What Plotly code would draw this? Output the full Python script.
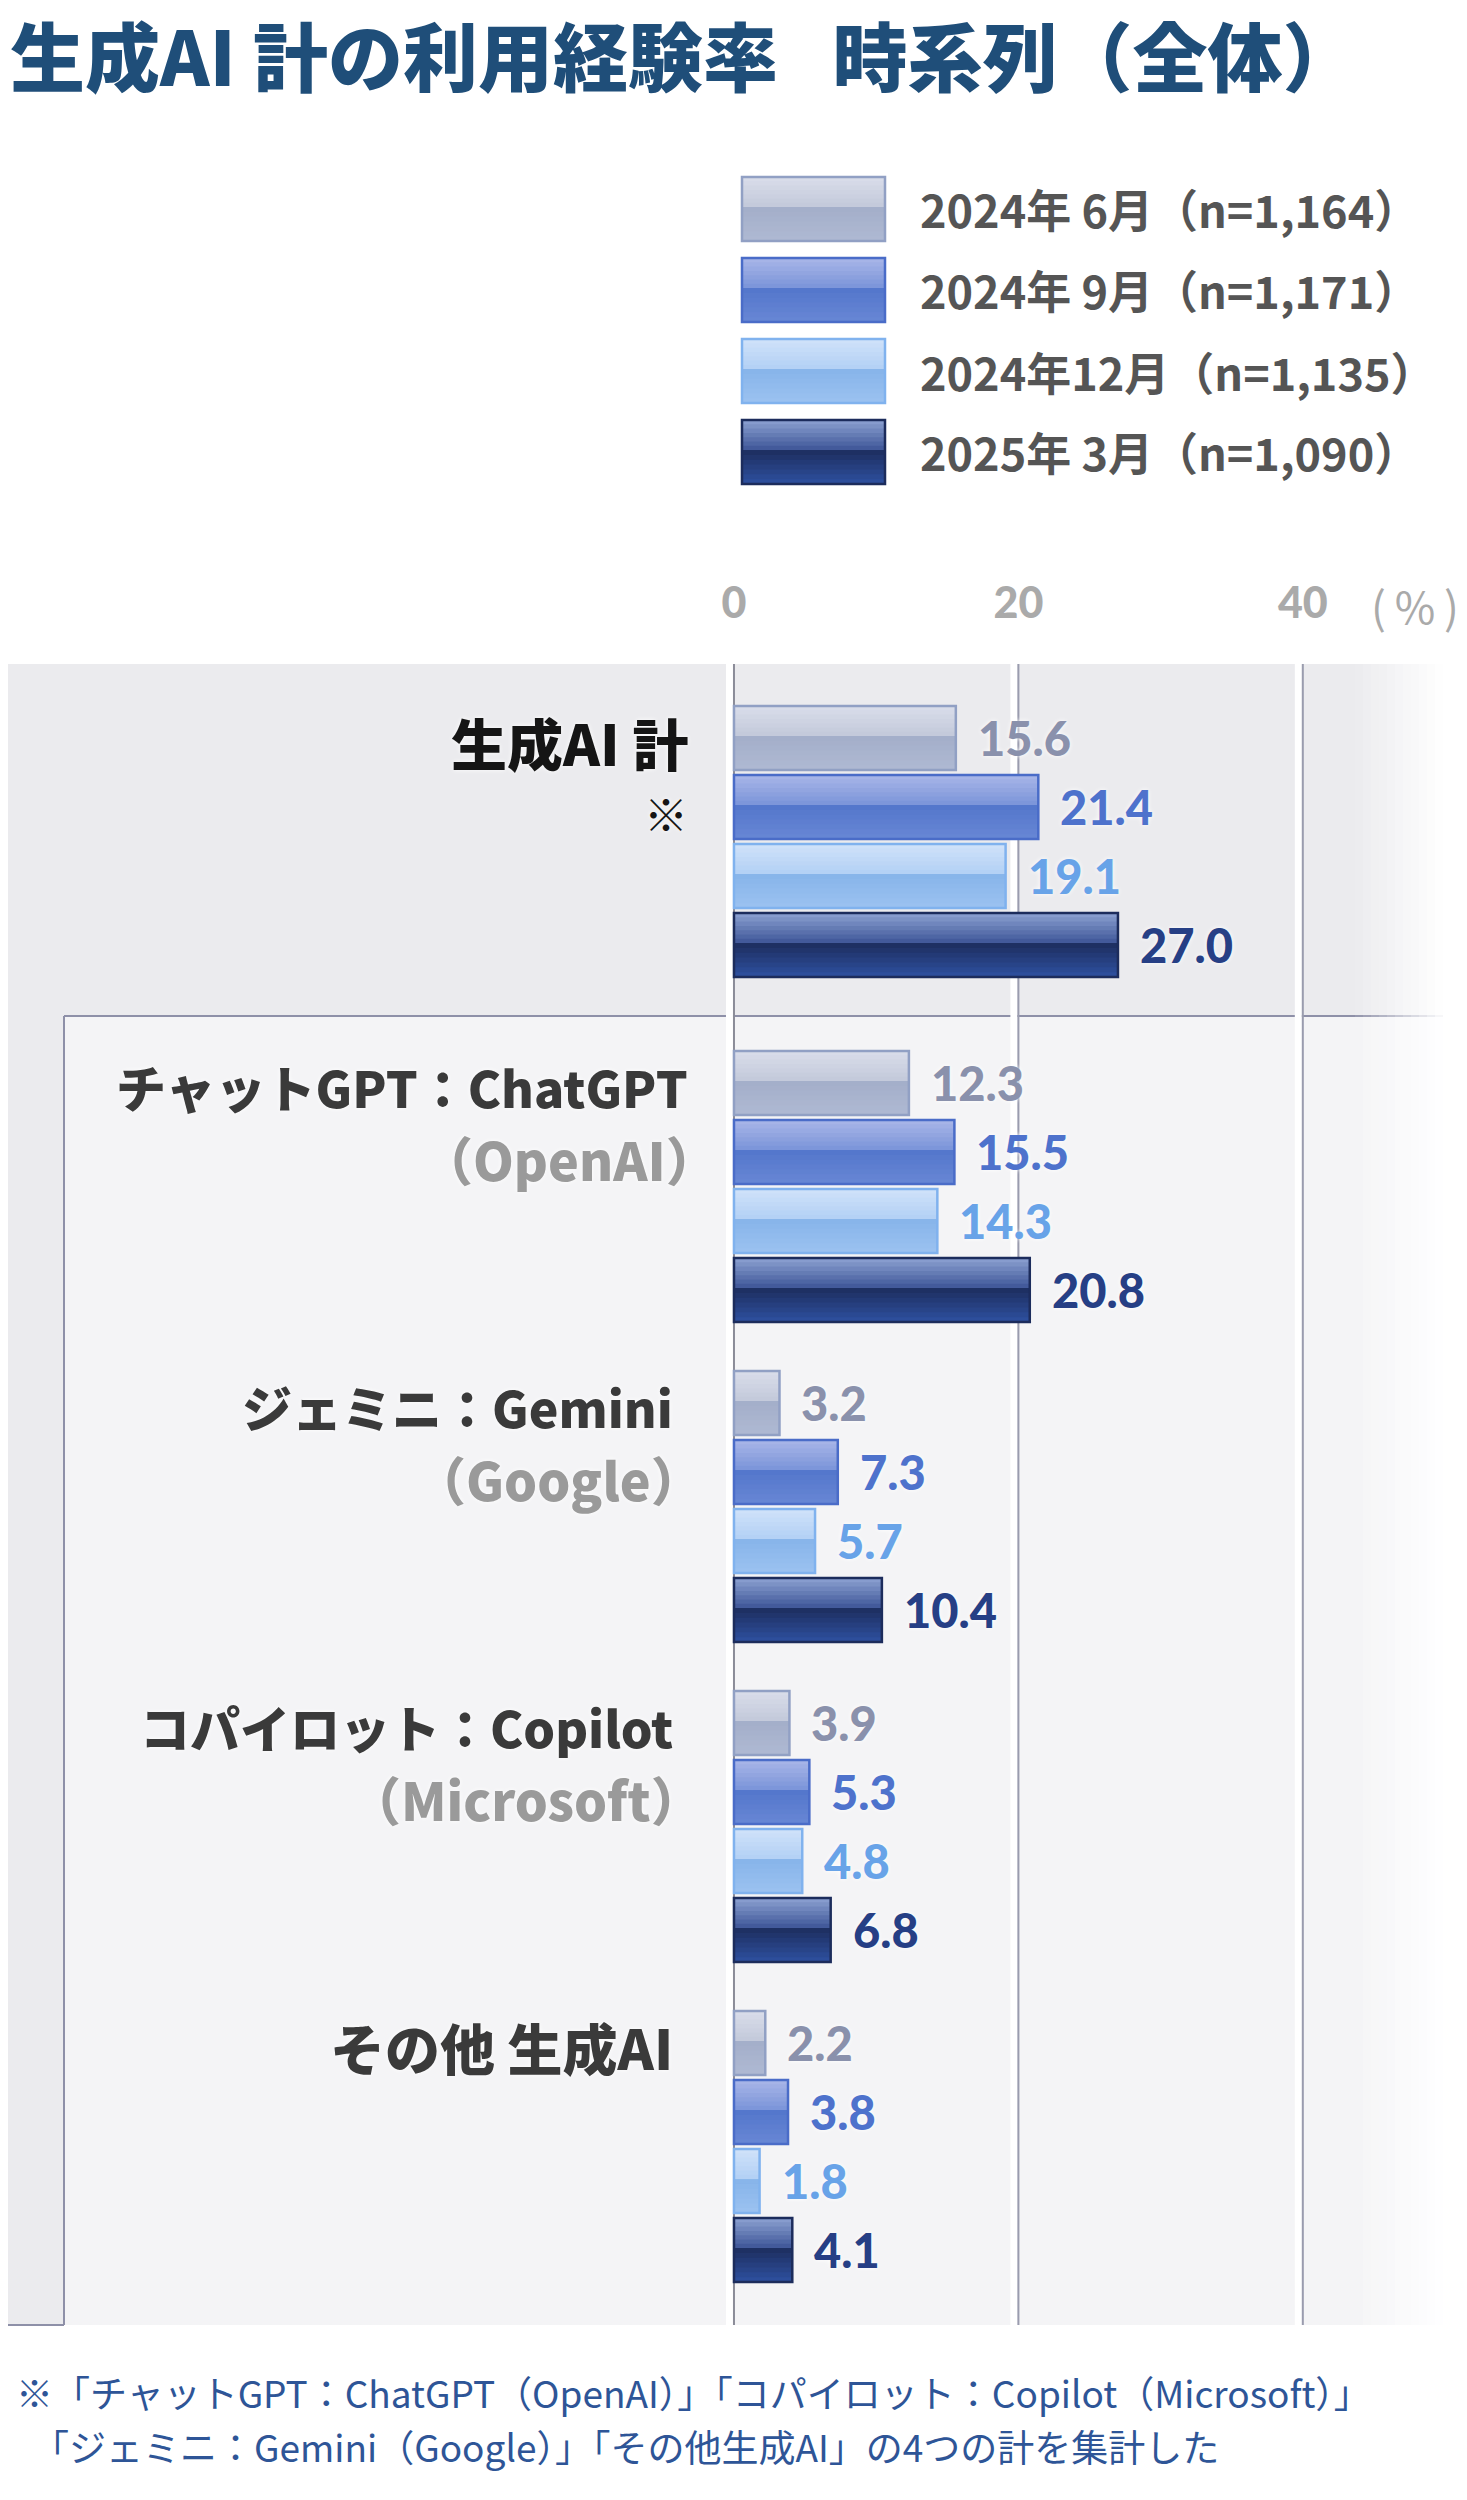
import plotly.graph_objects as go

# ---- data ----
categories = ["生成AI 計", "チャットGPT：ChatGPT", "ジェミニ：Gemini",
              "コパイロット：Copilot", "その他 生成AI"]
sublabels = ["※", "（OpenAI）", "（Google）", "（Microsoft）", ""]
periods = ["2024年 6月（n=1,164）", "2024年 9月（n=1,171）",
           "2024年12月（n=1,135）", "2025年 3月（n=1,090）"]
jun24 = [15.6, 12.3, 3.2, 3.9, 2.2]
sep24 = [21.4, 15.5, 7.3, 5.3, 3.8]
dec24 = [19.1, 14.3, 5.7, 4.8, 1.8]
mar25 = [27.0, 20.8, 10.4, 6.8, 4.1]
tick_vals = [0, 20, 40]

title = "生成AI 計の利用経験率\u2002 時系列（全体）"
note1 = "※「チャットGPT：ChatGPT（OpenAI）」「コパイロット：Copilot（Microsoft）」"
note2 = "「ジェミニ：Gemini（Google）」「その他生成AI」の4つの計を集計した"

series = [jun24, sep24, dec24, mar25]

# ---- styles ----
# glossy bars: (top, above split, below split, bottom)
grads = [
    ("#dadeea", "#c2c8da", "#a3aec9", "#afb9d3"),
    ("#a9b7e8", "#7a93d9", "#5376cb", "#6887d5"),
    ("#d0e2f9", "#b2d0f5", "#86b4ea", "#9cc2f0"),
    ("#8da2d2", "#3d5597", "#1d2e5e", "#2e50a0"),
]
borders = ["#91a0c4", "#4a6cc8", "#80b2ee", "#1c2c5c"]
val_colors = ["#8a91ac", "#4e72cc", "#68a3e8", "#263f85"]

JP = "Noto Sans CJK JP"
NUM = "Lato"
GLOW = "0px 0px 5px white"

W, H = 1467, 2500
ML, MR, MT, MB = 8, 16, 664, 175
PW, PH = W - ML - MR, H - MT - MB
X0, X1 = -51.05, 50.42          # 0 sits at px 734, 14.22 px per %
PXU = PW / (X1 - X0)


def fx(px):
    return (px - ML) / PW


def fy(py):
    return 1 - (py - MT) / PH


def mix(a, b, t):
    a = [int(a[i:i + 2], 16) for i in (1, 3, 5)]
    b = [int(b[i:i + 2], 16) for i in (1, 3, 5)]
    return "rgb(%d,%d,%d)" % tuple(round(a[k] + (b[k] - a[k]) * t) for k in range(3))


def bands(c, nb=7, split=0.47):
    out = []
    for i in range(nb):
        out.append((split * i / nb, split * (i + 1) / nb, mix(c[0], c[1], (i + .5) / nb)))
    for i in range(nb):
        out.append((split + (1 - split) * i / nb, split + (1 - split) * (i + 1) / nb,
                    mix(c[2], c[3], (i + .5) / nb)))
    return out


BAR_H, BAR_STEP, GROUP_STEP, FIRST, SECTION_EXTRA = 64, 69, 320, 74, 25


def bar_y(g, s):
    return FIRST + g * GROUP_STEP + (SECTION_EXTRA if g > 0 else 0) + s * BAR_STEP


fig = go.Figure()

for s, vals in enumerate(series):
    ys = [bar_y(g, s) for g in range(len(categories))]
    for t0, t1, col in bands(grads[s]):
        fig.add_trace(go.Bar(
            x=vals, y=ys, orientation="h",
            offset=-BAR_H / 2 + t0 * BAR_H, width=(t1 - t0) * BAR_H + 0.8,
            marker=dict(color=col, line=dict(width=0)),
            showlegend=False, hoverinfo="skip"))
    fig.add_trace(go.Bar(
        x=vals, y=ys, orientation="h", name=periods[s],
        offset=-BAR_H / 2, width=BAR_H,
        marker=dict(color="rgba(0,0,0,0)", line=dict(color=borders[s], width=2.5)),
        showlegend=False))

shapes = []
# background panels
shapes.append(dict(type="rect", xref="paper", yref="paper", x0=0, x1=1,
                   y0=fy(1016), y1=1, fillcolor="#ebebee", line_width=0, layer="below"))
shapes.append(dict(type="rect", xref="paper", yref="paper", x0=0, x1=fx(64),
                   y0=0, y1=fy(1016), fillcolor="#ebebee", line_width=0, layer="below"))
shapes.append(dict(type="rect", xref="paper", yref="paper", x0=fx(64), x1=1,
                   y0=0, y1=fy(1016), fillcolor="#f4f4f6", line_width=0, layer="below"))
for x0, y0, x1, y1 in [(fx(64), fy(1016), 1, fy(1016)), (fx(64), 0, fx(64), fy(1016)),
                       (0, 0, fx(64), 0)]:
    shapes.append(dict(type="line", xref="paper", yref="paper", x0=x0, x1=x1, y0=y0, y1=y1,
                       line=dict(color="#8e90a8", width=2), layer="below"))
# grid lines with a white highlight on their left
for v in tick_vals:
    shapes.append(dict(type="rect", xref="x", yref="paper", x0=v - 8 / PXU, x1=v - 1 / PXU,
                       y0=0, y1=1, fillcolor="white", line_width=0, layer="below"))
    shapes.append(dict(type="line", xref="x", yref="paper", x0=v, x1=v, y0=0, y1=1,
                       line=dict(color="#8b8c98" if v == 0 else "#9a9cae", width=2),
                       layer="below"))
# right edge fades to white
for i in range(12):
    shapes.append(dict(type="rect", xref="paper", yref="paper",
                       x0=fx(1355 + i * 8), x1=fx(1363 + i * 8), y0=0, y1=1,
                       fillcolor="white", opacity=(i + 1) / 12, line_width=0, layer="below"))

# legend boxes
for s in range(len(periods)):
    cy = 209 + 81 * s
    top = cy - 32
    for t0, t1, col in bands(grads[s]):
        shapes.append(dict(type="rect", xref="paper", yref="paper",
                           x0=fx(742), x1=fx(885), y0=fy(top + t0 * 64), y1=fy(top + t1 * 64 + 0.8),
                           fillcolor=col, line_width=0))
    shapes.append(dict(type="rect", xref="paper", yref="paper",
                       x0=fx(742), x1=fx(885), y0=fy(top), y1=fy(top + 64),
                       line=dict(color=borders[s], width=2.5)))

ann = []
for s, p in enumerate(periods):
    ann.append(dict(xref="paper", yref="paper", x=fx(918), y=fy(209 + 81 * s),
                    xanchor="left", yanchor="middle", text=p, showarrow=False,
                    font=dict(family=JP, size=45, color="#555555", weight=700)))

ann.append(dict(xref="paper", yref="paper", x=fx(1415), y=fy(605), text="(\u2009%\u2009)",
                xanchor="center", yanchor="middle", showarrow=False,
                font=dict(family=JP, size=44, color="#aaaaaa")))

label_right = [690, 690, 675, 675, 675]
label_size = [56, 50, 50, 50, 55]
for g, (c, sub) in enumerate(zip(categories, sublabels)):
    ann.append(dict(xref="paper", yref="y", x=fx(label_right[g]), y=bar_y(g, 0) + 3,
                    xanchor="right", yanchor="middle", text=c, showarrow=False,
                    font=dict(family=JP, size=label_size[g], weight=900,
                              color="#151515" if g == 0 else "#3a3a3a", shadow=GLOW)))
    if sub:
        ann.append(dict(xref="paper", yref="y",
                        x=fx(label_right[g] + (30 if g else 0)), y=bar_y(g, 0) + 75,
                        xanchor="right", yanchor="middle", text=sub, showarrow=False,
                        font=dict(family=JP, size=52 if g else 44, weight=900,
                                  color="#151515" if g == 0 else "#9a9a9a", shadow=GLOW)))

for s, vals in enumerate(series):
    for g, v in enumerate(vals):
        ann.append(dict(xref="x", yref="y", x=v, y=bar_y(g, s), xshift=20,
                        xanchor="left", yanchor="middle", text=f"{v:.1f}", showarrow=False,
                        font=dict(family=NUM, size=47, weight=900, color=val_colors[s],
                                  shadow=GLOW)))

ann.append(dict(xref="paper", yref="paper", x=fx(14), y=fy(2392), text=note1,
                xanchor="left", yanchor="middle", showarrow=False,
                font=dict(family=JP, size=37, color="#2e5597")))
ann.append(dict(xref="paper", yref="paper", x=fx(30), y=fy(2446), text=note2,
                xanchor="left", yanchor="middle", showarrow=False,
                font=dict(family=JP, size=37, color="#2e5597")))

fig.update_layout(
    width=W, height=H,
    margin=dict(l=ML, r=MR, t=MT, b=MB, pad=0),
    paper_bgcolor="white", plot_bgcolor="rgba(0,0,0,0)",
    barmode="overlay", showlegend=False,
    title=dict(text=title, x=10 / W, xref="container", xanchor="left",
               y=1 - 60 / H, yref="container", yanchor="middle",
               font=dict(family=JP, size=75, weight=900, color="#1f4e79")),
    xaxis=dict(range=[X0, X1], side="top", tickvals=tick_vals, showgrid=False,
               zeroline=False, showline=False, ticks="", ticklabelstandoff=36,
               tickfont=dict(family=NUM, size=43, weight=900, color="#aaaaaa"),
               fixedrange=True),
    yaxis=dict(range=[PH, 0], visible=False, fixedrange=True),
    shapes=shapes, annotations=ann,
)

fig.write_html("out.html", config={"displayModeBar": False},
               post_script="document.body.style.margin='0px';")
